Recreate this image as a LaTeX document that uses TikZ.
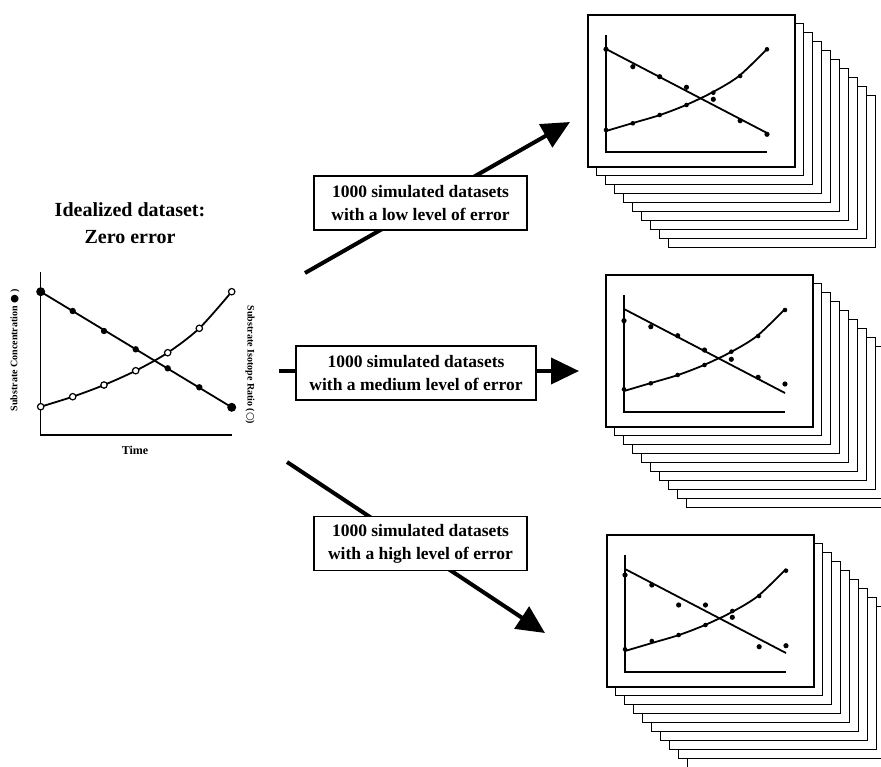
\documentclass[tikz,border=0pt]{standalone}
\usepackage{fontspec}
\setmainfont{Liberation Serif}
\newfontfamily\symfont{DejaVu Sans}
\usetikzlibrary{arrows.meta, calc, positioning}

\tikzset{
  bigarrow/.style={line width=4pt, -{Triangle[length=28pt,width=26pt]}},
  errbox/.style={draw, line width=1.2pt, fill=white, align=center, minimum width=213pt, minimum height=54pt, inner sep=0pt, font=\bfseries\fontsize{17.5}{23}\selectfont},
  sheet/.style={draw, line width=1.1pt, fill=white},
  curve/.style={line width=1.8pt},
}

\newcommand{\sheetstack}[4]{%
  \begin{scope}[shift={(#1,#2)}]
    \foreach \i in {9,8,...,1}
      \draw[sheet] (8.9*\i,8.9*\i) rectangle ++(207,152);
    \draw[sheet, line width=1.4pt] (0,0) rectangle (207,152);
    \draw[line width=1.2pt] (18,20) -- (18,137) -- (179,137);
    \draw[curve] (18,34) -- (179,118);
    \draw[curve] plot[smooth] coordinates {(18,116) (45,108) (72,100) (98,90) (125,77) (151,61) (179,34)};
    \foreach \yy [count=\k] in {#3}
      \fill ({18+26.83*(\k-1)},\yy) circle (2.6);
    \foreach \yy [count=\k] in {#4}
      \fill ({18+26.83*(\k-1)},\yy) circle (2.3);
  \end{scope}}

\begin{document}
\begin{tikzpicture}[x=1pt, y=-1pt]
  \useasboundingbox (0,0) rectangle (881,766);
  \clip (0,0) rectangle (881,766);

  \node[font=\bfseries\fontsize{20}{27}\selectfont, align=center] (title) at (130,223) {Idealized dataset:\\Zero error};

  \draw[line width=1.4pt] (40.7,272) -- (40.7,435) -- (232,435);
  \draw[curve] (40.7,291.7) -- (231.7,407.3);
  \draw[curve] plot[smooth] coordinates {(40.7,406.7) (72.7,396.7) (104,385) (135.7,370.7) (167.7,352.7) (199.3,328.3) (231.7,291.7)};
  \foreach \px/\py in {72.7/311, 104/331, 135.7/349.3, 167.7/368.3, 199.3/387.3}
    \fill (\px,\py) circle (3.2);
  \fill (40.7,291.7) circle (4.5);
  \fill (231.7,407.3) circle (4.5);
  \foreach \px/\py in {40.7/406.7, 72.7/396.7, 104/385, 135.7/370.7, 167.7/352.7, 199.3/328.3, 231.7/291.7}
    \draw[line width=1.2pt, fill=white] (\px,\py) circle (3.2);
  \node[rotate=90, font=\bfseries\fontsize{10}{12}\selectfont] (conclabel) at (15,350) {Substrate Concentration {\symfont ●} )};
  \node[rotate=-90, font=\bfseries\fontsize{10}{12}\selectfont] (ratiolabel) at (250,365) {Substrate Isotope Ratio ({\symfont ○})};
  \node[font=\bfseries\fontsize{12}{14}\selectfont] (timelabel) at (135,450) {Time};

  \coordinate (lowstart) at (305,273);
  \coordinate (lowtip) at (570,122);
  \coordinate (medstart) at (279,371);
  \coordinate (medtip) at (579,371);
  \coordinate (highstart) at (287,462);
  \coordinate (hightip) at (545,633);
  \draw[bigarrow] (lowstart) -- (lowtip);
  \draw[bigarrow] (medstart) -- (medtip);
  \draw[bigarrow] (highstart) -- (hightip);

  \node[errbox] (lowbox) at (420.5,203) {1000 simulated datasets\\with a low level of error};
  \node[errbox, minimum width=240pt] (medbox) at (416,373) {1000 simulated datasets\\with a medium level of error};
  \node[errbox] (highbox) at (420.5,543.5) {1000 simulated datasets\\with a high level of error};

  \sheetstack{588}{15}{34.3,51.7,61.7,72.3,84.3,105.7,119.3}{115,108.3,100,90,77.7,61,34.3}
  \sheetstack{606}{275}{45.7,51.7,60.7,75,84.3,102.3,109}{114.3,108.3,100,90,76.7,61,35}
  \sheetstack{607}{535}{40,50,70,70,82.3,111.7,110.7}{114.3,106,100,90,76,61,35.7}
\end{tikzpicture}
\end{document}
